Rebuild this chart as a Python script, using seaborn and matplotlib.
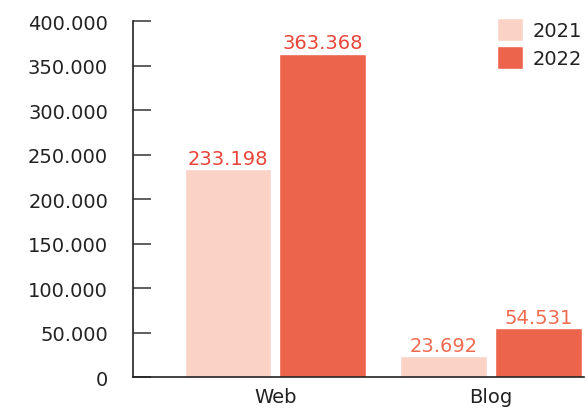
import numpy as np
import pandas as pd
import matplotlib
matplotlib.use("Agg")
import matplotlib.pyplot as plt
import seaborn as sns
from matplotlib.ticker import FuncFormatter

categories = ["Web", "Blog"]
years = ["2021", "2022"]
values_2021 = [233198, 23692]
values_2022 = [363368, 54531]

df = pd.DataFrame({
    "channel": categories * 2,
    "year": [years[0]] * 2 + [years[1]] * 2,
    "visits": values_2021 + values_2022,
})

sns.set_style("white")
plt.rcParams['font.family'] = ['DejaVu Sans']

fig = plt.figure(figsize=(5.88, 4.10), dpi=100)
ax = fig.add_axes([0.2262, 0.078, 0.767, 0.8683])

palette = {"2021": "#FAD3C6", "2022": "#EC644B"}
sns.barplot(data=df, x="channel", y="visits", hue="year", order=categories,
            hue_order=years, palette=palette, width=0.88, gap=0.085,
            saturation=1, ax=ax)

def dotted(v, pos=None):
    return f"{int(round(v)):,}".replace(",", ".")

label_colors = {"Web": "#E8443A", "Blog": "#F06B50"}
for cont in ax.containers:
    for bar, cat in zip(cont, categories):
        h = bar.get_height()
        ax.annotate(dotted(h), (bar.get_x() + bar.get_width() / 2, h),
                    xytext=(0, 1), textcoords="offset points",
                    ha="center", va="bottom", fontsize=14,
                    color=label_colors[cat])

ax.set_ylim(0, 400000)
ax.set_xlim(-0.66, 1.43)
ax.set_yticks(np.arange(0, 400001, 50000))
ax.yaxis.set_major_formatter(FuncFormatter(dotted))
ax.tick_params(axis="y", left=True, direction="in", length=13, width=1.2,
               color="#444444", labelsize=14, pad=18, labelcolor="#222222")
ax.tick_params(axis="x", length=0, labelsize=14, pad=7, labelcolor="#222222")
ax.set_xlabel("")
ax.set_ylabel("")

for s in ["top", "right"]:
    ax.spines[s].set_visible(False)
for s in ["left", "bottom"]:
    ax.spines[s].set_color("#222222")
    ax.spines[s].set_linewidth(1.2)

leg = ax.legend(title=None, loc="upper right", frameon=False, fontsize=14,
                handlelength=1.3, handleheight=1.4, handletextpad=0.5,
                labelspacing=0.3, borderaxespad=0.0,
                bbox_to_anchor=(1.012, 1.03))
for t in leg.get_texts():
    t.set_color("#222222")

fig.savefig("out.png", dpi=100)
